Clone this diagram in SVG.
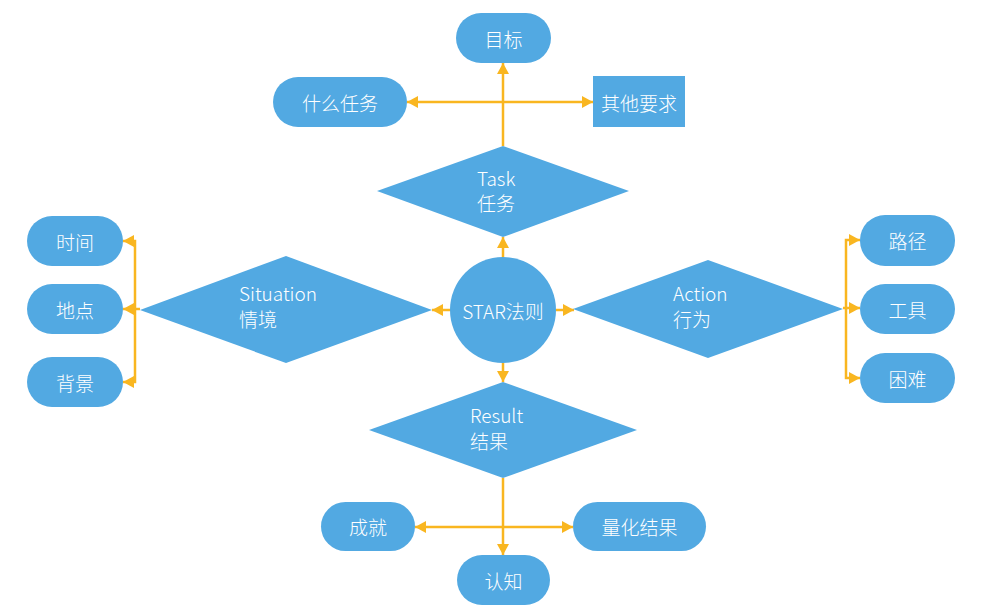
<svg xmlns="http://www.w3.org/2000/svg" width="994" height="615" viewBox="0 0 994 615">
<defs>
<style>
.n{fill:#52A9E2;stroke:none}
.t{fill:#fff;font-family:"Noto Sans CJK SC","Noto Sans",sans-serif;font-size:19px;font-weight:300}
.c{text-anchor:middle;dominant-baseline:central}
.e{fill:none;stroke:#F9B620;stroke-width:2.5}
.a{marker-end:url(#ah)}
.b{marker-start:url(#ahs);marker-end:url(#ah)}
</style>
<marker id="ah" markerUnits="userSpaceOnUse" markerWidth="12" markerHeight="14" refX="11" refY="7" orient="auto"><path d="M0,1 L11,7 L0,13 z" fill="#F9B620"/></marker>
<marker id="ahs" markerUnits="userSpaceOnUse" markerWidth="12" markerHeight="14" refX="11" refY="7" orient="auto-start-reverse"><path d="M0,1 L11,7 L0,13 z" fill="#F9B620"/></marker>
</defs>
<rect width="994" height="615" fill="#fff"/>
<g id="connectors">
<path class="e a" d="M503,146 V63"/>
<path class="e b" d="M407,102 H593"/>
<path class="e a" d="M503,257 V237"/>
<path class="e a" d="M503,363 V382"/>
<path class="e a" d="M451,310 H432"/>
<path class="e a" d="M556,310 H574"/>
<path class="e a" d="M140,309 H135 V241 H123"/>
<path class="e a" d="M135,309 H123"/>
<path class="e a" d="M135,309 V382 H123"/>
<path class="e a" d="M843,308 H846 V240 H860"/>
<path class="e a" d="M846,308 H860"/>
<path class="e a" d="M846,308 V378 H860"/>
<path class="e a" d="M503,478 V555"/>
<path class="e b" d="M415,527 H573"/>
</g>
<g id="goal"><rect class="n" x="456" y="13" width="95" height="50" rx="25"/><text class="t c" x="503.5" y="38">目标</text></g>
<g id="what-task"><rect class="n" x="273" y="77" width="134" height="50" rx="25"/><text class="t c" x="340" y="102">什么任务</text></g>
<g id="other-req"><rect class="n" x="593" y="76" width="92" height="51"/><text class="t c" x="639" y="102">其他要求</text></g>
<g id="task"><polygon class="n" points="503,146 629,191 503,237 377,191"/><text class="t" x="477" y="186">Task</text><text class="t" x="477" y="211">任务</text></g>
<g id="star"><circle class="n" cx="503" cy="310" r="53"/><text class="t c" x="503" y="310">STAR法则</text></g>
<g id="situation"><polygon class="n" points="286,256 432,310 286,363 140,310"/><text class="t" x="239" y="301">Situation</text><text class="t" x="239" y="327">情境</text></g>
<g id="action"><polygon class="n" points="708,260 843,309 708,358 573,309"/><text class="t" x="673" y="301">Action</text><text class="t" x="673" y="327">行为</text></g>
<g id="result"><polygon class="n" points="503,382 637,430 503,478 369,430"/><text class="t" x="470" y="423">Result</text><text class="t" x="470" y="449">结果</text></g>
<g id="time"><rect class="n" x="27" y="216" width="96" height="50" rx="25"/><text class="t c" x="75" y="241">时间</text></g>
<g id="place"><rect class="n" x="27" y="284" width="96" height="50" rx="25"/><text class="t c" x="75" y="309">地点</text></g>
<g id="background"><rect class="n" x="27" y="357" width="96" height="50" rx="25"/><text class="t c" x="75" y="382">背景</text></g>
<g id="path"><rect class="n" x="860" y="215" width="95" height="51" rx="25"/><text class="t c" x="907.5" y="240.5">路径</text></g>
<g id="tool"><rect class="n" x="860" y="284" width="95" height="50" rx="25"/><text class="t c" x="907.5" y="309">工具</text></g>
<g id="difficulty"><rect class="n" x="860" y="353" width="95" height="50" rx="25"/><text class="t c" x="907.5" y="378">困难</text></g>
<g id="achievement"><rect class="n" x="321" y="502" width="94" height="49" rx="24.5"/><text class="t c" x="368" y="526.5">成就</text></g>
<g id="quantified"><rect class="n" x="573" y="502" width="133" height="49" rx="24.5"/><text class="t c" x="639.5" y="526.5">量化结果</text></g>
<g id="cognition"><rect class="n" x="457" y="555" width="93" height="50" rx="25"/><text class="t c" x="503.5" y="580">认知</text></g>
</svg>
